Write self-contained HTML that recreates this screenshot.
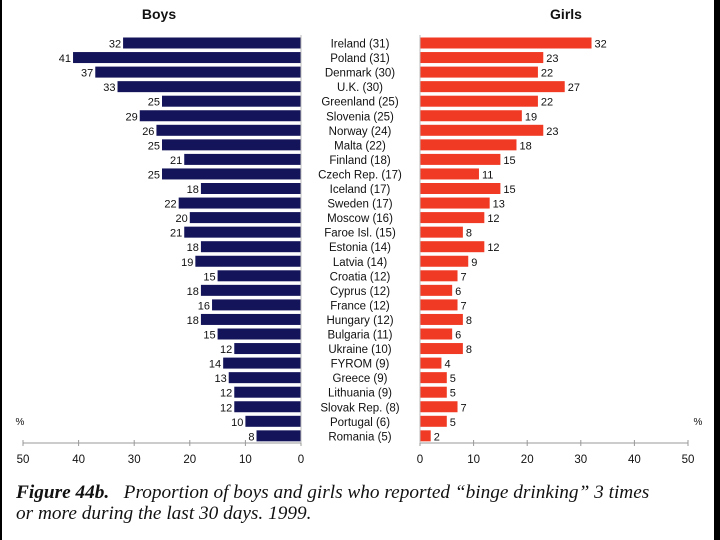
<!DOCTYPE html>
<html><head><meta charset="utf-8"><style>
body{margin:0;width:720px;height:540px;background:#fff;overflow:hidden;position:relative;font-family:"Liberation Sans",sans-serif}
#bl{position:absolute;left:0;top:0;width:2px;height:540px;background:#000}
#br{position:absolute;right:0;top:0;width:6px;height:540px;background:#000}
.cap{position:absolute;left:16px;top:482px;font-family:"Liberation Serif",serif;font-style:italic;font-size:19.3px;line-height:21px;color:#111}
</style></head><body>
<div id="bl"></div>
<div id="br"></div>
<svg id="chart" width="720" height="540" style="position:absolute;left:0;top:0"></svg>
<div class="cap"><b>Figure 44b.</b>&nbsp;&nbsp; Proportion of boys and girls who reported “binge drinking” 3 times<br>or more during the last 30 days. 1999.</div>
<script>
const countries=["Ireland (31)","Poland (31)","Denmark (30)","U.K. (30)","Greenland (25)","Slovenia (25)","Norway (24)","Malta (22)","Finland (18)","Czech Rep. (17)","Iceland (17)","Sweden (17)","Moscow (16)","Faroe Isl. (15)","Estonia (14)","Latvia (14)","Croatia (12)","Cyprus (12)","France (12)","Hungary (12)","Bulgaria (11)","Ukraine (10)","FYROM (9)","Greece (9)","Lithuania (9)","Slovak Rep. (8)","Portugal (6)","Romania (5)"];
const boys=[32,41,37,33,25,29,26,25,21,25,18,22,20,21,18,19,15,18,16,18,15,12,14,13,12,12,10,8];
const girls=[32,23,22,27,22,19,23,18,15,11,15,13,12,8,12,9,7,6,7,8,6,8,4,5,5,7,5,2];
const ticks=[0,10,20,30,40,50];
const NS="http://www.w3.org/2000/svg";
const svg=document.getElementById('chart');
function el(t,a,txt){const e=document.createElementNS(NS,t);for(const k in a)e.setAttribute(k,a[k]);if(txt!==undefined)e.textContent=txt;svg.appendChild(e);return e;}
const bx=v=>301-v*5.56, gx=v=>420+v*5.36;
const y=i=>43+i*14.55;
function txt(x,yy,s,anchor,size,weight,name){const t=el('text',{x:x,y:yy,'text-anchor':anchor,'font-size':size,'font-weight':weight||'normal',fill:'#111','font-family':'Liberation Sans, sans-serif'},s);

return t;}
txt(159,19,"Boys","middle",14,"bold","boys-title");
txt(566,19,"Girls","middle",14,"bold","girls-title");
countries.forEach((c,i)=>{
 const yc=y(i);
 const b=el('rect',{x:bx(boys[i]),y:yc-5.5,width:301-bx(boys[i]),height:11,fill:'#14145a'});
 
 
 txt(bx(boys[i])-2,yc+4.5,String(boys[i]),"end",11,"normal","boys-value");
 const g=el('rect',{x:420,y:yc-5.5,width:gx(girls[i])-420,height:11,fill:'#f03a24'});
 
 
 txt(gx(girls[i])+3,yc+4.5,String(girls[i]),"start",11,"normal","girls-value");
 txt(360,yc+4.5,c,"middle",11.5,"normal","country-label");
});
const a1=el('line',{x1:bx(50),x2:301,y1:443,y2:443,stroke:'#999','stroke-width':1});


const a2=el('line',{x1:420,x2:gx(50),y1:443,y2:443,stroke:'#999','stroke-width':1});


ticks.forEach(t=>{
 el('line',{x1:bx(t),x2:bx(t),y1:440,y2:446,stroke:'#999'});
 el('line',{x1:gx(t),x2:gx(t),y1:440,y2:446,stroke:'#999'});
 txt(bx(t),463,String(t),"middle",11.5,"normal","boys-tick-label");
 txt(gx(t),463,String(t),"middle",11.5,"normal","girls-tick-label");
});
el('line',{x1:301,x2:301,y1:35,y2:443,stroke:'#bbb'});
el('line',{x1:420,x2:420,y1:35,y2:443,stroke:'#bbb'});
txt(20,425,"%","middle",10,"normal","boys-unit");
txt(698,425,"%","middle",10,"normal","girls-unit");
</script>
</body></html>
